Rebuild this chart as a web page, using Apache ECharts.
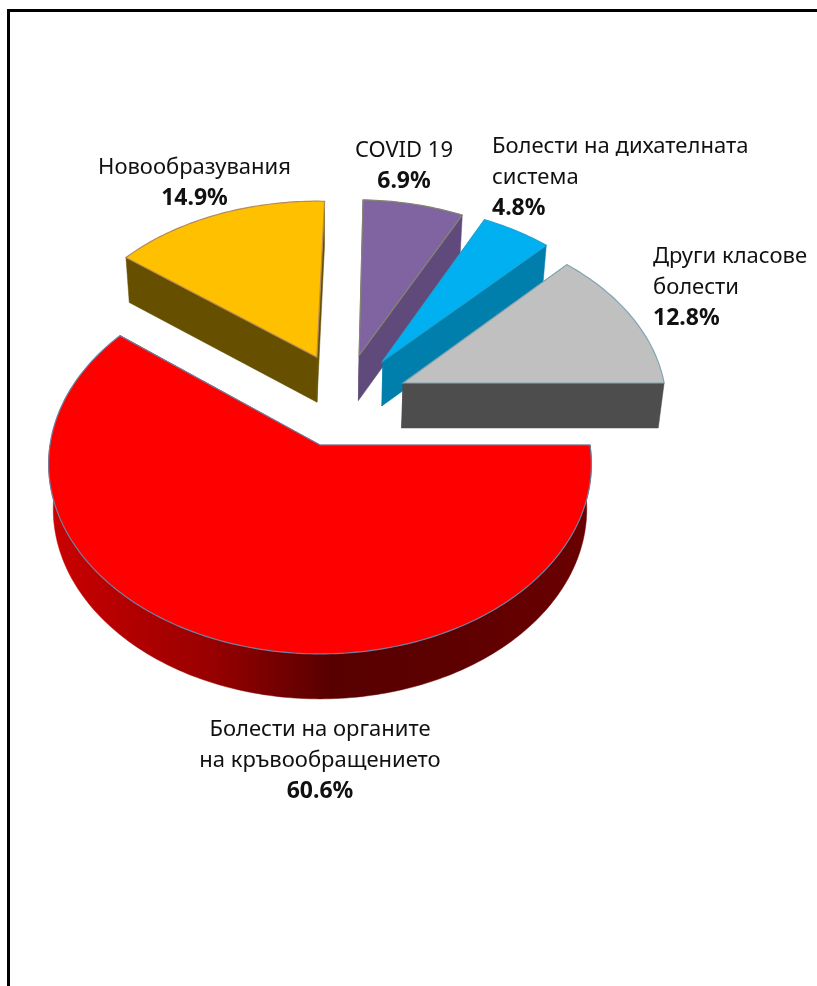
<!DOCTYPE html>
<html><head><meta charset="utf-8">
<style>html,body{margin:0;padding:0;background:#fff}#c{width:817px;height:986px}</style>
<script src="https://cdn.jsdelivr.net/npm/echarts@6/dist/echarts.min.js"></script>
</head><body><div id="c"></div>
<script>
// data
const categories = ['Болести на органите\nна кръвообращението', 'Новообразувания', 'COVID 19', 'Болести на дихателната\nсистема', 'Други класове\nболести'];
const values = [60.6, 14.9, 6.9, 4.8, 12.8];
// styles
const topColors = ['#ff0000', '#ffc000', '#8064a2', '#00b0f0', '#c0c0c0'];
const wallColors = ['#5a0000', '#665000', '#604a7b', '#007fad', '#4d4d4d'];
const edgeColors = ['#6f7fa0', '#b5895a', '#85856f', '#1aa5d8', '#7fa6b2'];
// layout: pull-out of each slice in the pie's own plane, label anchors
const pull = [[0, 0], [-0.012, -0.49], [0.152, -0.5], [0.244, -0.468], [0.318, -0.341]];
const labelAt = [[320, 714, 'center'], [194.5, 152, 'center'], [404, 135, 'center'], [492, 131, 'left'], [653, 241, 'left']];
const view = {x: 320, y: 445, rx: 270, ry: 188, persp: -0.1, depth: 45, shrink: 0.983};

const total = values.reduce((a, b) => a + b, 0);
function project(u, v, low) {
  const d = 1 + view.persp * v;
  const k = low ? view.shrink : 1;
  return [view.x + k * view.rx * u / d, view.y + view.ry * v / d + (low ? view.depth : 0)];
}
function renderItem(params, api) {
  const i = params.dataIndex;
  let before = 0;
  for (let j = 0; j < i; j++) before += values[j];
  const val = api.value(0);
  const a0 = before / total * 360, a1 = (before + val) / total * 360;
  const [ox, oy] = pull[i];
  const rimPt = (deg, low) => {
    const t = deg * Math.PI / 180;
    return project(ox + Math.cos(t), oy + Math.sin(t), low);
  };
  const arc = [];
  for (let a = a0; a < a1; a += 1) arc.push(a);
  arc.push(a1);
  const children = [];
  const wall = (pts, fill) => children.push({type: 'polygon', shape: {points: pts}, style: {fill, stroke: fill, lineWidth: 0.5}});
  // radial faces
  [a0, a1].forEach(a => wall([project(ox, oy, false), rimPt(a, false), rimPt(a, true), project(ox, oy, true)], wallColors[i]));
  // outer rim, near half only
  const near = arc.filter(a => Math.sin(a * Math.PI / 180) >= -1e-6);
  if (near.length > 1) {
    const fill = i === 0 ? new echarts.graphic.LinearGradient(0, 0, 1, 0, [
      {offset: 0, color: '#cc0000'}, {offset: 0.3, color: '#980000'},
      {offset: 0.52, color: '#580000'}, {offset: 0.7, color: '#5c0000'}, {offset: 1, color: '#6a0000'}
    ]) : wallColors[i];
    wall(near.map(a => rimPt(a, false)).concat(near.slice().reverse().map(a => rimPt(a, true))), fill);
  }
  // top face
  children.push({type: 'polygon',
    shape: {points: [project(ox, oy, false)].concat(arc.map(a => rimPt(a, false)))},
    style: {fill: topColors[i], stroke: edgeColors[i], lineWidth: 1.2}});
  // label
  const [lx, ly, al] = labelAt[i];
  const lines = categories[i].split('\n').map(s => '{n|' + s + '}');
  lines.push('{v|' + val.toFixed(1) + '%}');
  children.push({type: 'text', x: lx, y: ly, z2: 10, style: {
    text: lines.join('\n'), align: al, verticalAlign: 'top', fill: '#111',
    rich: {
      n: {fontFamily: 'Noto Sans', fontSize: 22, lineHeight: 31, fill: '#111', align: al},
      v: {fontFamily: 'Noto Sans', fontSize: 23, fontWeight: 'bold', lineHeight: 31, fill: '#111', align: al}
    }}});
  return {type: 'group', children};
}
const chart = echarts.init(document.getElementById('c'), null, {renderer: 'canvas'});
chart.setOption({
  animation: false,
  backgroundColor: '#ffffff',
  graphic: [
    {type: 'rect', silent: true, shape: {x: 7, y: 9, width: 810, height: 3}, style: {fill: '#000'}},
    {type: 'rect', silent: true, shape: {x: 7, y: 9, width: 3, height: 977}, style: {fill: '#000'}}
  ],
  series: [{type: 'custom', coordinateSystem: 'none', silent: true, clip: false,
    renderItem, data: values.map(v => [v])}]
});
</script></body></html>
